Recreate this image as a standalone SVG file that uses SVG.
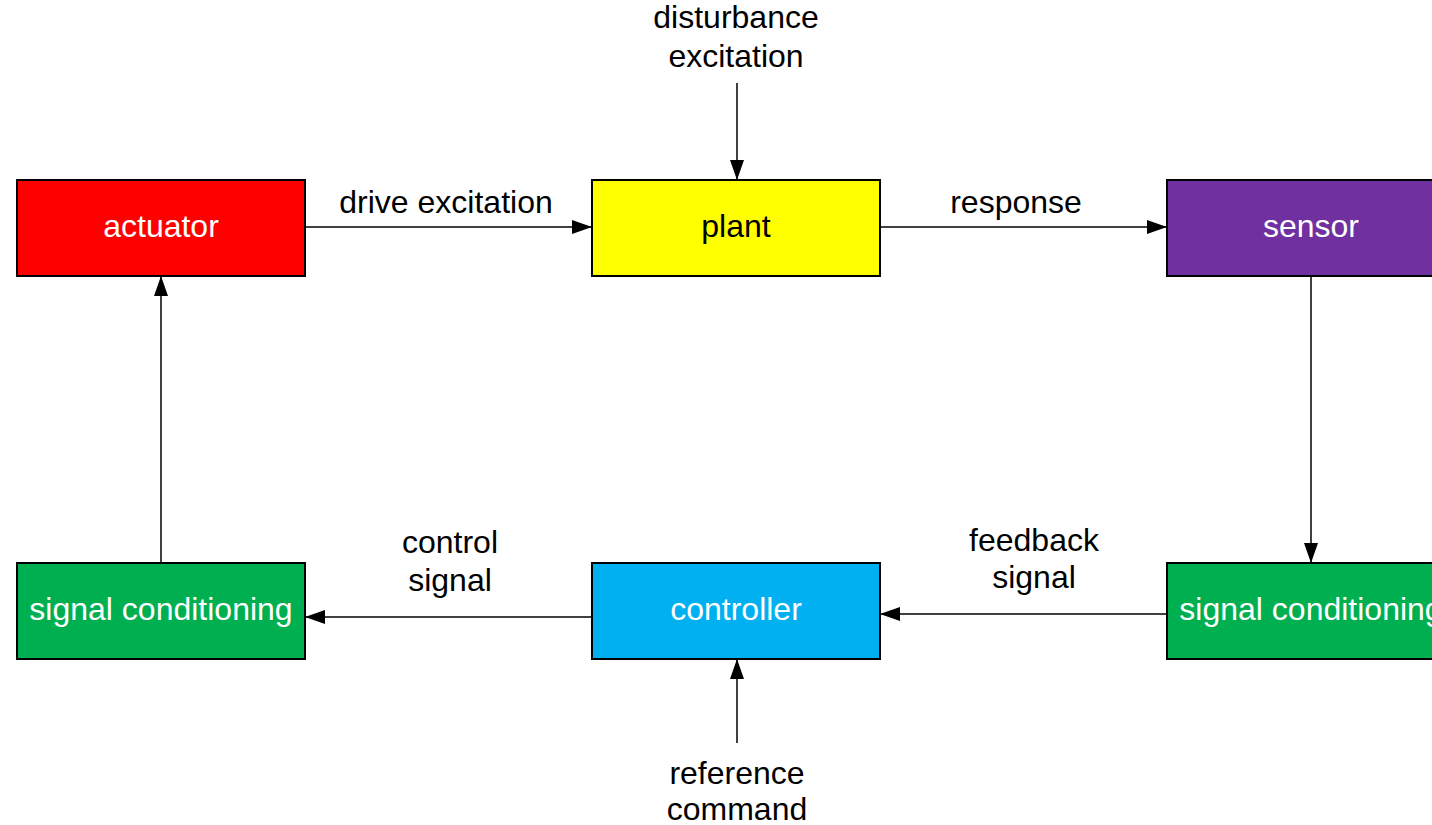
<svg xmlns="http://www.w3.org/2000/svg" width="1432" height="825" viewBox="0 0 1432 825">
<style>
.box{stroke:#000;stroke-width:2}
.t{font-family:"Liberation Sans",Arial,sans-serif;font-size:32px;text-anchor:middle}
.w{fill:#fff}
.k{fill:#000}
.c{stroke:#000;stroke-width:1.5;fill:none;marker-end:url(#ah)}
</style>
<defs>
<marker id="ah" viewBox="0 0 20 14" refX="20" refY="7" markerWidth="20" markerHeight="14" markerUnits="userSpaceOnUse" orient="auto">
<path d="M0,0 L20,7 L0,14 Z" fill="#000"/>
</marker>
</defs>
<rect width="1432" height="825" fill="#fff"/>
<g id="connectors">
<line class="c" x1="305" y1="227" x2="592" y2="227"/>
<line class="c" x1="880" y1="227" x2="1167" y2="227"/>
<line class="c" x1="1311" y1="276" x2="1311" y2="563"/>
<line class="c" x1="1167" y1="614" x2="880" y2="614"/>
<line class="c" x1="592" y1="617" x2="305" y2="617"/>
<line class="c" x1="161" y1="563" x2="161" y2="276"/>
<line class="c" x1="737" y1="83" x2="737" y2="180"/>
<line class="c" x1="737" y1="743" x2="737" y2="659"/>
<text class="t k" x="446" y="213">drive excitation</text>
<text class="t k" x="1016" y="213">response</text>
<text class="t k" x="450" y="553">control</text>
<text class="t k" x="450" y="591">signal</text>
<text class="t k" x="1034" y="551">feedback</text>
<text class="t k" x="1034" y="588">signal</text>
</g>
<g id="disturbance">
<text class="t k" x="736" y="28">disturbance</text>
<text class="t k" x="736" y="67">excitation</text>
</g>
<g id="reference">
<text class="t k" x="737" y="784">reference</text>
<text class="t k" x="737" y="820">command</text>
</g>
<g id="actuator">
<rect class="box" x="17" y="180" width="288" height="96" fill="#FF0000"/>
<text class="t w" x="161" y="237">actuator</text>
</g>
<g id="plant">
<rect class="box" x="592" y="180" width="288" height="96" fill="#FFFF00"/>
<text class="t k" x="736" y="237">plant</text>
</g>
<g id="sensor">
<rect class="box" x="1167" y="180" width="288" height="96" fill="#7030A0"/>
<text class="t w" x="1311" y="237">sensor</text>
</g>
<g id="signal-conditioning-left">
<rect class="box" x="17" y="563" width="288" height="96" fill="#00B050"/>
<text class="t w" x="161" y="620">signal conditioning</text>
</g>
<g id="controller">
<rect class="box" x="592" y="563" width="288" height="96" fill="#00B0F0"/>
<text class="t w" x="736" y="620">controller</text>
</g>
<g id="signal-conditioning-right">
<rect class="box" x="1167" y="563" width="288" height="96" fill="#00B050"/>
<text class="t w" x="1311" y="620">signal conditioning</text>
</g>
</svg>
